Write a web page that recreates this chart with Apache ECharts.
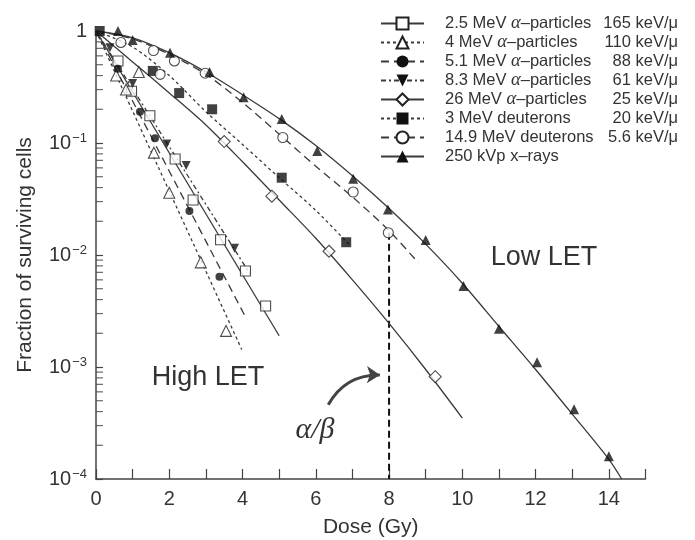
<!DOCTYPE html>
<html>
<head>
<meta charset="utf-8">
<script src="https://cdn.jsdelivr.net/npm/echarts@6/dist/echarts.min.js"></script>
</head>
<body style="margin:0">
<div id="main" style="width:695px;height:540px"></div>
<script type="text/javascript">
// series names and LET values, as in the legend
var seriesNames = [
    '2.5 MeV α–particles', '4 MeV α–particles', '5.1 MeV α–particles', '8.3 MeV α–particles',
    '26 MeV α–particles', '3 MeV deuterons', '14.9 MeV deuterons', '250 kVp x–rays'
];
var letLabels = ['165 keV/μ', '110 keV/μ', '88 keV/μ', '61 keV/μ', '25 keV/μ', '20 keV/μ', '5.6 keV/μ', ''];

// measured points [dose Gy, surviving fraction]
var alpha25Pts = [[0.6, 0.54], [0.97, 0.29], [1.47, 0.175], [2.16, 0.072], [2.65, 0.031], [3.4, 0.0137], [4.08, 0.0072], [4.63, 0.0035]];
var alpha4Pts = [[0.55, 0.40], [0.82, 0.30], [1.17, 0.43], [1.58, 0.082], [2.0, 0.036], [2.86, 0.0086], [3.55, 0.0021]];
var alpha51Pts = [[0.6, 0.46], [1.2, 0.19], [1.61, 0.11], [2.55, 0.0247], [3.37, 0.0064]];
var alpha83Pts = [[0.38, 0.71], [1.0, 0.34], [1.93, 0.098], [2.46, 0.063], [3.78, 0.0115]];
var alpha26Pts = [[3.5, 0.103], [4.8, 0.0335], [6.36, 0.0108], [9.26, 0.00082]];
var deut3Pts = [[0.1, 1.0], [1.55, 0.44], [2.27, 0.279], [3.17, 0.2], [5.07, 0.049], [6.83, 0.013]];
var deut149Pts = [[0.68, 0.79], [1.57, 0.67], [1.75, 0.41], [2.14, 0.54], [2.98, 0.42], [5.1, 0.112], [7.02, 0.0365], [7.98, 0.0158]];
var xrayPts = [[0.6, 1.0], [1.0, 0.83], [2.02, 0.64], [3.1, 0.43], [4.03, 0.256], [5.07, 0.164], [6.04, 0.085], [7.02, 0.048],
    [7.97, 0.0255], [9.0, 0.0136], [10.03, 0.0053], [11.0, 0.0022], [12.04, 0.0011], [13.05, 0.00042], [14.0, 0.00016]];

// fitted curves
var alpha25Fit = [[0, 1], [5.0, 0.0019]];
var alpha4Fit = [[0, 1], [3.98, 0.00143]];
var alpha51Fit = [[0, 1], [4.08, 0.0028]];
var alpha83Fit = [[0, 1], [4.2, 0.0068]];
var alpha26Fit = [[0, 1], [1, 0.53], [2, 0.28], [3, 0.145], [4, 0.068], [5, 0.031], [6, 0.0141], [7, 0.006], [8, 0.00245], [9, 0.00095], [10, 0.00035]];
var deut3Fit = [[0, 1], [1, 0.72], [2, 0.4], [3, 0.19], [4, 0.097], [5, 0.049], [6, 0.025], [6.9, 0.0125]];
var deut149Fit = [[0, 1], [1, 0.85], [2, 0.62], [3, 0.41], [4, 0.23], [5, 0.12], [6, 0.062], [7, 0.033], [8, 0.0165], [8.8, 0.0085]];
var xrayFit = [[0, 1], [1, 0.87], [2, 0.64], [3, 0.43], [4, 0.27], [5, 0.165], [6, 0.095], [7, 0.051], [8, 0.026], [9, 0.0125],
    [10, 0.0056], [11, 0.0023], [12, 0.00095], [13, 0.00038], [14, 0.00015], [14.35, 0.0001]];

// alpha/beta marker and arrow
var alphaBetaLine = [[8, 0.0158], [8, 0.0001]];
var arrowCoords = [[6.34, 0.00046], [7.75, 0.00085]];

// minor ticks of the log axis
var yMinorTicks = [0.0002, 0.0003, 0.0004, 0.0005, 0.0006, 0.0007, 0.0008, 0.0009,
    0.002, 0.003, 0.004, 0.005, 0.006, 0.007, 0.008, 0.009,
    0.02, 0.03, 0.04, 0.05, 0.06, 0.07, 0.08, 0.09,
    0.2, 0.3, 0.4, 0.5, 0.6, 0.7, 0.8, 0.9];

var points = [alpha25Pts, alpha4Pts, alpha51Pts, alpha83Pts, alpha26Pts, deut3Pts, deut149Pts, xrayPts];
var fits = [alpha25Fit, alpha4Fit, alpha51Fit, alpha83Fit, alpha26Fit, deut3Fit, deut149Fit, xrayFit];
var looks = [
    {symbol: 'rect', size: 10, open: true, dash: 'solid'},
    {symbol: 'triangle', size: 11, open: true, dash: [3, 3]},
    {symbol: 'circle', size: 8, open: false, dash: [8, 5]},
    {symbol: 'triangle', size: 9, open: false, dash: [5, 3, 2, 3], rotate: 180},
    {symbol: 'diamond', size: 12, open: true, dash: 'solid'},
    {symbol: 'rect', size: 10, open: false, dash: [3, 3]},
    {symbol: 'circle', size: 10, open: true, dash: [8, 5]},
    {symbol: 'triangle', size: 10, open: false, dash: 'solid'}
];

var FONT = '"Liberation Sans", Arial, sans-serif';
var series = [];

seriesNames.forEach(function (name, i) {
    var lk = looks[i];
    var itemStyle = lk.open
        ? {color: '#fff', borderColor: '#222', borderWidth: 1.1}
        : {color: '#111', borderWidth: 0};
    series.push({
        type: 'line',
        name: name,
        data: fits[i],
        showSymbol: false,
        symbol: lk.symbol,
        symbolRotate: lk.rotate || 0,
        smooth: 0.3,
        itemStyle: itemStyle,
        lineStyle: {color: '#3a3a3a', width: 1.3, type: lk.dash},
        silent: true,
        z: 2
    });
    series.push({
        type: 'scatter',
        name: name + ' data',
        data: points[i],
        symbol: lk.symbol,
        symbolSize: lk.size,
        symbolRotate: lk.rotate || 0,
        itemStyle: itemStyle,
        clip: false,
        silent: true,
        z: 3
    });
});

series.push({
    type: 'scatter',
    name: 'minor ticks',
    data: yMinorTicks.map(function (v) { return [0, v]; }),
    symbol: 'rect',
    symbolSize: [7, 1.2],
    symbolOffset: [3.5, 0],
    itemStyle: {color: '#444'},
    clip: false,
    silent: true,
    z: 1
});

series.push({
    type: 'line',
    name: 'alpha/beta',
    data: alphaBetaLine,
    showSymbol: false,
    lineStyle: {color: '#111', width: 2, type: [7, 4]},
    silent: true,
    z: 1
});

series.push({
    type: 'lines',
    coordinateSystem: 'cartesian2d',
    data: [{coords: arrowCoords}],
    symbol: ['none', 'arrow'],
    symbolSize: 13,
    lineStyle: {color: '#444', width: 3, curveness: 0.3, opacity: 1},
    silent: true,
    z: 4
});

var myChart = echarts.init(document.getElementById('main'));

option = {
    animation: false,
    backgroundColor: '#fff',
    grid: {left: 96, right: 49.5, top: 31, bottom: 61, outerBoundsMode: 'none'},
    xAxis: {
        type: 'value',
        min: 0,
        max: 15,
        interval: 1,
        name: 'Dose (Gy)',
        nameLocation: 'middle',
        nameGap: 38,
        nameTextStyle: {fontSize: 21, color: '#333', fontFamily: FONT},
        axisLine: {lineStyle: {color: '#444', width: 1.5}},
        axisTick: {inside: true, length: 10, lineStyle: {color: '#444', width: 1.2}},
        axisLabel: {
            fontSize: 20, color: '#333', fontFamily: FONT, margin: 10,
            formatter: function (v) { return v % 2 === 0 ? String(v) : ''; }
        },
        splitLine: {show: false}
    },
    yAxis: {
        type: 'log',
        logBase: 10,
        min: 0.0001,
        max: 1,
        name: 'Fraction of surviving cells',
        nameLocation: 'middle',
        nameGap: 60,
        nameTextStyle: {fontSize: 21, color: '#333', fontFamily: FONT},
        axisLine: {show: true, lineStyle: {color: '#444', width: 1.5}},
        axisTick: {inside: true, length: 7, lineStyle: {color: '#444', width: 1.2}},
        axisLabel: {
            fontSize: 20, color: '#333', fontFamily: FONT, margin: 9,
            formatter: function (v) {
                var e = Math.round(Math.log10(v));
                return e === 0 ? '1' : '10{s|−' + (-e) + '}';
            },
            rich: {s: {fontSize: 13, color: '#333', fontFamily: FONT, verticalAlign: 'top', padding: [0, 0, 9, 1]}}
        },
        splitLine: {show: false}
    },
    legend: {
        data: seriesNames,
        orient: 'vertical',
        left: 380,
        top: 14,
        padding: 0,
        itemWidth: 43,
        itemHeight: 15,
        itemGap: 0,
        selectedMode: false,
        formatter: function (name) {
            return '{sp| }' + name.replace('α', '{g|α}');
        },
        textStyle: {
            fontSize: 16.5, color: '#333', fontFamily: FONT, lineHeight: 19,
            rich: {
                sp: {width: 16},
                g: {fontSize: 18.5, fontStyle: 'italic', fontFamily: '"Liberation Serif", serif', color: '#333', lineHeight: 19}
            }
        }
    },
    graphic: [
        {
            type: 'text', right: 17, top: 14,
            style: {text: letLabels.join('\n'), font: '16.5px ' + FONT, fill: '#333', textAlign: 'right', align: 'right', lineHeight: 19}
        },
        {
            type: 'text', x: 208, y: 378,
            style: {text: 'High LET', font: '27px ' + FONT, fill: '#333', align: 'center', verticalAlign: 'middle', textAlign: 'center', textVerticalAlign: 'middle'}
        },
        {
            type: 'text', x: 544, y: 258,
            style: {text: 'Low LET', font: '27px ' + FONT, fill: '#333', align: 'center', verticalAlign: 'middle', textAlign: 'center', textVerticalAlign: 'middle'}
        },
        {
            type: 'text', x: 315, y: 430,
            style: {text: 'α/β', font: 'italic 30px "Liberation Serif", serif', fill: '#333', align: 'center', verticalAlign: 'middle', textAlign: 'center', textVerticalAlign: 'middle'}
        }
    ],
    series: series
};

myChart.setOption(option);
</script>
</body>
</html>
